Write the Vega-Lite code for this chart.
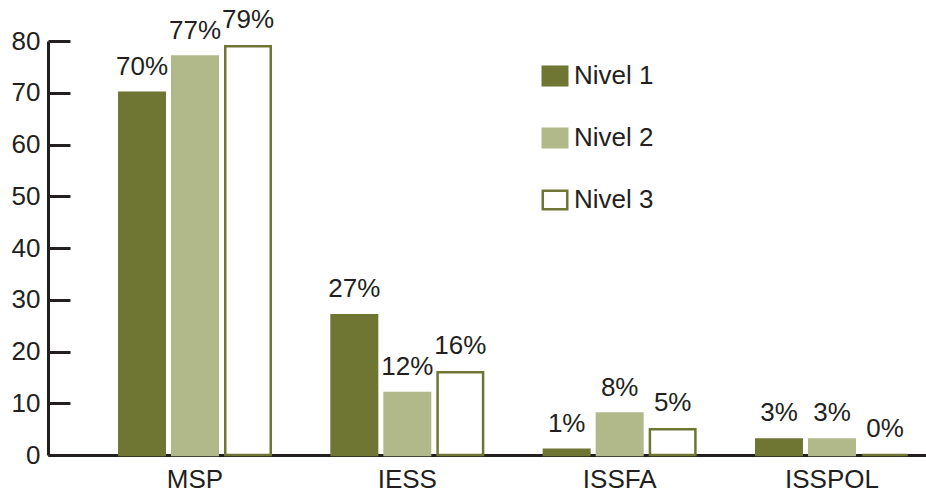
{
  "$schema": "https://vega.github.io/schema/vega-lite/v6.json",
  "width": 878,
  "height": 414,
  "autosize": {"type": "none"},
  "padding": {"left": 48, "top": 41, "right": 0, "bottom": 37},
  "background": "white",
  "config": {"view": {"stroke": null}, "font": "Liberation Sans"},
  "data": {
    "values": [
      {"inst": "MSP", "nivel": "Nivel 1", "value": 70, "label": "70%"},
      {"inst": "MSP", "nivel": "Nivel 2", "value": 77, "label": "77%"},
      {"inst": "MSP", "nivel": "Nivel 3", "value": 79, "label": "79%"},
      {"inst": "IESS", "nivel": "Nivel 1", "value": 27, "label": "27%"},
      {"inst": "IESS", "nivel": "Nivel 2", "value": 12, "label": "12%"},
      {"inst": "IESS", "nivel": "Nivel 3", "value": 16, "label": "16%"},
      {"inst": "ISSFA", "nivel": "Nivel 1", "value": 1, "label": "1%"},
      {"inst": "ISSFA", "nivel": "Nivel 2", "value": 8, "label": "8%"},
      {"inst": "ISSFA", "nivel": "Nivel 3", "value": 5, "label": "5%"},
      {"inst": "ISSPOL", "nivel": "Nivel 1", "value": 3, "label": "3%"},
      {"inst": "ISSPOL", "nivel": "Nivel 2", "value": 3, "label": "3%"},
      {"inst": "ISSPOL", "nivel": "Nivel 3", "value": 0, "label": "0%"}
    ]
  },
  "encoding": {
    "x": {
      "field": "inst",
      "type": "nominal",
      "sort": ["MSP", "IESS", "ISSFA", "ISSPOL"],
      "scale": {"paddingInner": 0.2865, "paddingOuter": 0.2108, "align": 0.796},
      "axis": {
        "title": null,
        "ticks": false,
        "labelAngle": 0,
        "labelFontSize": 26,
        "labelColor": "#231f20",
        "labelPadding": 11,
        "domainColor": "#231f20",
        "domainWidth": 3
      }
    },
    "xOffset": {
      "field": "nivel",
      "type": "nominal",
      "sort": ["Nivel 1", "Nivel 2", "Nivel 3"],
      "scale": {"paddingInner": 0.1415, "paddingOuter": 0}
    },
    "y": {
      "field": "value",
      "type": "quantitative",
      "scale": {"domain": [0, 80], "nice": false},
      "axis": {
        "title": null,
        "grid": false,
        "values": [0, 10, 20, 30, 40, 50, 60, 70, 80],
        "tickSize": -22,
        "tickWidth": 3,
        "tickColor": "#231f20",
        "domainColor": "#231f20",
        "domainWidth": 3,
        "labelFontSize": 26,
        "labelColor": "#231f20",
        "labelPadding": 30
      }
    }
  },
  "layer": [
    {
      "mark": {"type": "bar", "strokeWidth": 2.5},
      "encoding": {
        "fill": {
          "field": "nivel",
          "type": "nominal",
          "sort": ["Nivel 1", "Nivel 2", "Nivel 3"],
          "scale": {"range": ["#6f7533", "#b1b88a", "#ffffff"]},
          "legend": {
            "title": null,
            "orient": "none",
            "legendX": 494,
            "legendY": 22,
            "padding": 0,
            "labelFontSize": 26,
            "labelColor": "#231f20",
            "labelOffset": 6,
            "rowPadding": 32,
            "symbolType": "M-1.324,-1H1.324V1H-1.324Z",
            "symbolSize": 342,
            "symbolStrokeWidth": 2.5,
            "symbolOpacity": 1,
            "encode": {
              "symbols": {
                "update": {
                  "stroke": {"scale": "stroke", "field": "value"},
                  "strokeWidth": {"value": 2.5}
                }
              }
            }
          }
        },
        "stroke": {
          "field": "nivel",
          "type": "nominal",
          "sort": ["Nivel 1", "Nivel 2", "Nivel 3"],
          "scale": {"range": ["#6f7533", "#b1b88a", "#6f7533"]},
          "legend": null
        }
      }
    },
    {
      "mark": {"type": "text", "dy": -26, "fontSize": 26, "color": "#231f20", "baseline": "middle"},
      "encoding": {"text": {"field": "label"}}
    }
  ]
}
